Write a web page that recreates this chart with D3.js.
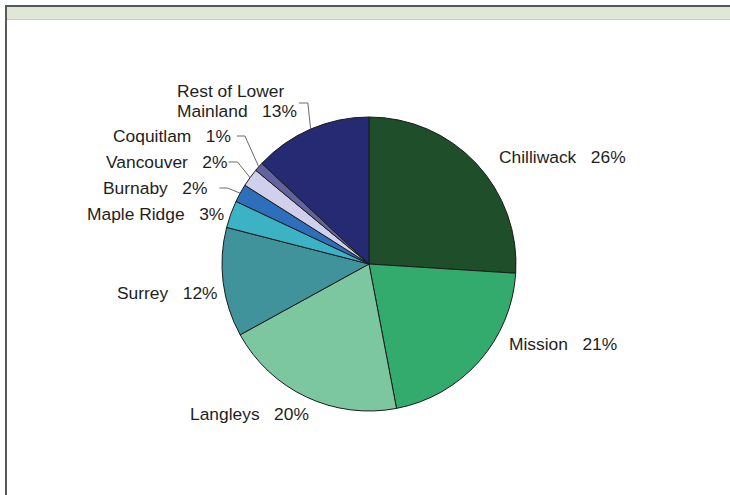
<!DOCTYPE html>
<html>
<head>
<meta charset="utf-8">
<script src="https://cdn.jsdelivr.net/npm/d3@7"></script>
<style>
  html, body { margin: 0; padding: 0; background: #ffffff; }
  svg { display: block; }
  text { font-family: "Liberation Sans", Arial, sans-serif; font-size: 17.4px; fill: #1e1e1e; white-space: pre; }
</style>
</head>
<body>
<svg id="chart" width="730" height="495"></svg>
<script>
// Share of respondents by area of residence
const regions = ["Chilliwack", "Mission", "Langleys", "Surrey", "Maple Ridge",
                 "Burnaby", "Vancouver", "Coquitlam", "Rest of Lower Mainland"];
const shares = [26, 21, 20, 12, 3, 2, 2, 1, 13];
const sliceColors = ["#1f4f2a", "#33ab6d", "#7cc7a0", "#40929b", "#3bb3c4",
                     "#2e6fbb", "#d0d0ec", "#62639e", "#262a73"];

// Label layout: anchor point (left edge, first baseline), leader gap and elbow length
const labelLayout = [
  { x: 499, y: 163, leader: false },
  { x: 509, y: 350, leader: false },
  { x: 190, y: 420, leader: false },
  { x: 117, y: 299, leader: false },
  { x: 87,  y: 220, leader: false },
  { x: 103, y: 194, leader: true, gap: 12, elbowDx: 8 },
  { x: 106, y: 168, leader: true, gap: 1,  elbowDx: 9 },
  { x: 113, y: 142, leader: true, gap: 6,  elbowDx: 8 },
  { x: 177, y: 97,  leader: true, gap: 2,  elbowDx: 9, lines: ["Rest of Lower", "Mainland"] }
];

const svg = d3.select("#chart");

// Window frame
svg.append("rect").attr("x", 6).attr("y", 7).attr("width", 724).attr("height", 13).attr("fill", "#e1e7d7");
svg.append("line").attr("x1", 6).attr("x2", 730).attr("y1", 19.5).attr("y2", 19.5).attr("stroke", "#c9cfc0").attr("stroke-width", 1);
svg.append("line").attr("x1", 5).attr("x2", 730).attr("y1", 6).attr("y2", 6).attr("stroke", "#55585a").attr("stroke-width", 2);
svg.append("line").attr("x1", 6).attr("x2", 6).attr("y1", 5).attr("y2", 495).attr("stroke", "#5a5a5a").attr("stroke-width", 2);

const cx = 369, cy = 264, radius = 147;
const data = regions.map((r, i) => ({ region: r, share: shares[i], color: sliceColors[i], layout: labelLayout[i] }));

const pie = d3.pie().value(d => d.share).sort(null);
const arc = d3.arc().innerRadius(0).outerRadius(radius);
const arcs = pie(data);

const g = svg.append("g").attr("transform", `translate(${cx},${cy})`);

g.selectAll("path.slice")
  .data(arcs)
  .join("path")
  .attr("class", "slice")
  .attr("d", arc)
  .attr("fill", d => d.data.color)
  .attr("stroke", "#1b1b1b")
  .attr("stroke-width", 1)
  .attr("stroke-linejoin", "round");

// Labels
const labels = svg.append("g");
arcs.forEach(a => {
  const L = a.data.layout;
  const t = labels.append("text").attr("x", L.x).attr("y", L.y);
  let lastText;
  if (L.lines) {
    t.append("tspan").attr("x", L.x).attr("y", L.y).text(L.lines[0]);
    lastText = t.append("tspan").attr("x", L.x).attr("y", L.y + 20).text(`${L.lines[1]}   ${a.data.share}%`);
  } else {
    lastText = t.text(`${a.data.region}   ${a.data.share}%`);
  }
  if (L.leader) {
    const node = (L.lines ? lastText : t).node();
    const bb = node.getBBox();
    const x0 = bb.x + bb.width + L.gap;
    const y0 = L.lines ? L.y + 20 - 14 : L.y - 6;
    const mid = (a.startAngle + a.endAngle) / 2;
    const ex = cx + radius * Math.sin(mid);
    const ey = cy - radius * Math.cos(mid);
    labels.append("polyline")
      .attr("points", [[x0, y0], [x0 + L.elbowDx, y0], [ex, ey]].map(p => p.join(",")).join(" "))
      .attr("fill", "none")
      .attr("stroke", "#6a6a6a")
      .attr("stroke-width", 1);
  }
});
</script>
</body>
</html>
